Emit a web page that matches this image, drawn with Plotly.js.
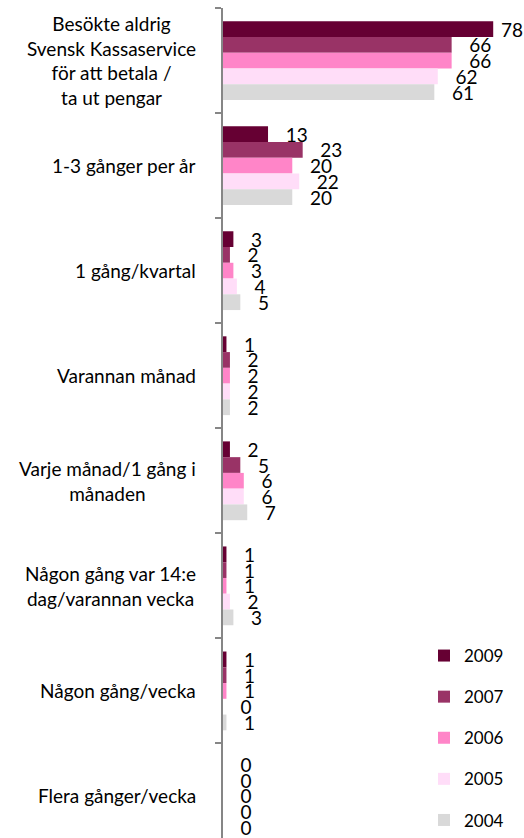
<!DOCTYPE html>
<html>
<head>
<meta charset="utf-8">
<script src="https://cdn.plot.ly/plotly-3.0.1.min.js"></script>
<style>html,body{margin:0;padding:0;background:#fff;}#chart{width:524px;height:838px;}</style>
</head>
<body>
<div id="chart"></div>
<script>
const categories = [
  "Besökte aldrig<br>Svensk Kassaservice<br>för att betala /<br>ta ut pengar",
  "1-3 gånger per år",
  "1 gång/kvartal",
  "Varannan månad",
  "Varje månad/1 gång i<br>månaden",
  "Någon gång var 14:e<br>dag/varannan vecka",
  "Någon gång/vecka",
  "Flera gånger/vecka"
];
const years = ["2009", "2007", "2006", "2005", "2004"];
const v2009 = [78, 13, 3, 1, 2, 1, 1, 0];
const v2007 = [66, 23, 2, 2, 5, 1, 1, 0];
const v2006 = [66, 20, 3, 2, 6, 1, 1, 0];
const v2005 = [62, 22, 4, 2, 6, 2, 0, 0];
const v2004 = [61, 20, 5, 2, 7, 3, 1, 0];
const seriesValues = [v2009, v2007, v2006, v2005, v2004];
const colors = ["#660033", "#993366", "#FF85C8", "#FFDDF8", "#D9D9D9"];

const FONT = "Lato, 'Open Sans', sans-serif";
const XMAX = 86.6;

const traces = years.map((yr, i) => ({
  type: "bar",
  orientation: "h",
  name: yr,
  legendgroup: yr,
  x: seriesValues[i],
  y: categories,
  marker: {color: colors[i], line: {width: 0}},
  texttemplate: seriesValues[i].map(v => (v > XMAX - 10 ? "\u00a0" : "\u00a0\u00a0\u00a0") + "%{x}"),
  textposition: "outside",
  constraintext: "none",
  cliponaxis: false,
  textfont: {family: FONT, size: 19, color: "#000"},
  hoverinfo: "skip"
}));

const annotations = categories.map(c => ({
  xref: "paper", yref: "y",
  x: -0.083, y: c,
  text: c,
  showarrow: false,
  xanchor: "right", yanchor: "middle",
  align: "center",
  font: {family: FONT, size: 19, color: "#000"}
}));

const layout = {
  width: 524, height: 838,
  margin: {l: 223, r: 1, t: 8, b: 0},
  paper_bgcolor: "#fff", plot_bgcolor: "#fff",
  barmode: "group",
  bargap: 0.25,
  bargroupgap: 0,
  showlegend: true,
  legend: {
    x: 0.67, y: 0, xanchor: "left", yanchor: "bottom",
    font: {family: FONT, size: 17, color: "#000"},
    tracegroupgap: 16,
    traceorder: "grouped",
    bgcolor: "rgba(0,0,0,0)"
  },
  xaxis: {
    range: [0, XMAX],
    showgrid: false, zeroline: false, showline: false,
    showticklabels: false, ticks: ""
  },
  yaxis: {
    type: "category",
    range: [7.4, -0.5],
    showgrid: false, zeroline: false,
    showline: true, linecolor: "#868686", linewidth: 2,
    ticks: "outside", tickson: "boundaries", ticklen: 6, tickwidth: 2, tickcolor: "#868686",
    showticklabels: false
  },
  annotations: annotations,
  font: {family: FONT}
};

Plotly.newPlot("chart", traces, layout, {displayModeBar: false, staticPlot: true});
</script>
</body>
</html>
